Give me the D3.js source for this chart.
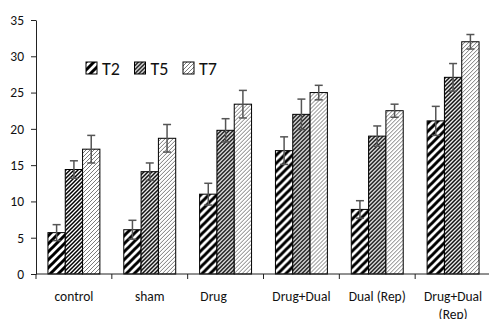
<!DOCTYPE html>
<html>
<head>
<meta charset="utf-8">
<script src="https://cdn.jsdelivr.net/npm/d3@7"></script>
<style>
  body { margin: 0; background: #fff; }
  text { font-family: Carlito, Lato, sans-serif; }
</style>
</head>
<body>
<div id="chartbox"></div>
<script>
const categories = ['control', 'sham', 'Drug', 'Drug+Dual', 'Dual (Rep)', 'Drug+Dual (Rep)']
const series = ['T2', 'T5', 'T7']
const t2 = [5.7, 6.1, 11.0, 17.0, 8.9, 21.1]
const t5 = [14.4, 14.1, 19.8, 22.0, 19.0, 27.1]
const t7 = [17.2, 18.7, 23.4, 25.0, 22.5, 32.0]
const t2err = [1.1, 1.3, 1.5, 1.9, 1.2, 2.0]
const t5err = [1.2, 1.2, 1.6, 2.1, 1.4, 1.9]
const t7err = [1.9, 1.9, 1.9, 1.0, 0.9, 1.0]
const yTicks = [0, 5, 10, 15, 20, 25, 30, 35]

const WIDTH = 489
const HEIGHT = 319
const chart = {
  left: 36,
  right: 491,
  top: 20,
  bottom: 274,
}

const values = { T2: t2, T5: t5, T7: t7 }
const errors = { T2: t2err, T5: t5err, T7: t7err }

const svg = d3.select('#chartbox')
  .append('svg')
  .attr('width', WIDTH)
  .attr('height', HEIGHT)

// hatch fills, all "upward diagonal"
const defs = svg.append('defs')
const hatch = (id, size, width, color) => {
  const p = defs.append('pattern')
    .attr('id', id)
    .attr('patternUnits', 'userSpaceOnUse')
    .attr('width', size)
    .attr('height', size)
  p.append('rect').attr('width', size).attr('height', size).attr('fill', '#fff')
  p.append('path')
    .attr('d', `M${-size / 2},${size / 2} l${size},${-size} M0,${size} l${size},${-size} M${size / 2},${size * 1.5} l${size},${-size}`)
    .attr('stroke', color)
    .attr('stroke-width', width)
}
hatch('p-T2', 8, 3, '#000')
hatch('p-T5', 4, 1.5, '#000')
hatch('p-T7', 4, 1, '#7a7a7a')

const x0 = d3.scaleBand()
  .domain(categories)
  .range([chart.left, chart.right])
  .padding(0)

const x1 = d3.scaleBand()
  .domain(series)
  .range([0, x0.bandwidth()])
  .paddingInner(0)
  .paddingOuter(0.69)

const y = d3.scaleLinear()
  .domain([0, 35])
  .range([chart.bottom, chart.top])

const rows = categories.map((c, i) => ({
  cat: c,
  bars: series.map(s => ({ s, v: values[s][i], e: errors[s][i] }))
}))

const groups = svg.selectAll('g.group')
  .data(rows)
  .enter()
  .append('g')
  .attr('class', 'group')
  .attr('transform', d => `translate(${x0(d.cat)},0)`)

groups.selectAll('rect')
  .data(d => d.bars)
  .enter()
  .append('rect')
  .attr('x', d => x1(d.s))
  .attr('y', d => y(d.v))
  .attr('width', x1.bandwidth())
  .attr('height', d => y(0) - y(d.v))
  .attr('fill', d => `url(#p-${d.s})`)
  .attr('stroke', '#000')
  .attr('stroke-width', 1)

// error bars
const err = groups.selectAll('g.err')
  .data(d => d.bars)
  .enter()
  .append('g')
  .attr('class', 'err')
  .attr('stroke', '#555')
  .attr('stroke-width', 1.5)
const cx = d => x1(d.s) + x1.bandwidth() / 2
err.append('line')
  .attr('x1', cx).attr('x2', cx)
  .attr('y1', d => y(d.v - d.e))
  .attr('y2', d => y(d.v + d.e))
err.append('line')
  .attr('x1', d => cx(d) - 4).attr('x2', d => cx(d) + 4)
  .attr('y1', d => y(d.v + d.e)).attr('y2', d => y(d.v + d.e))
err.append('line')
  .attr('x1', d => cx(d) - 4).attr('x2', d => cx(d) + 4)
  .attr('y1', d => y(d.v - d.e)).attr('y2', d => y(d.v - d.e))

// y axis
const yAxis = d3.axisLeft(y)
  .tickValues(yTicks)
  .tickSize(5)
  .tickSizeOuter(0)
  .tickPadding(7)
svg.append('g')
  .attr('transform', `translate(${chart.left},0)`)
  .call(yAxis)
  .call(g => g.select('.domain').attr('stroke', '#222'))
  .call(g => g.selectAll('.tick line').attr('stroke', '#222'))
  .call(g => g.selectAll('.tick text')
    .attr('font-family', 'Carlito, Lato, sans-serif')
    .attr('font-size', 13.5)
    .attr('fill', '#111'))

// x axis: line, ticks at band edges, labels at band centers
const xAxis = svg.append('g')
xAxis.append('line')
  .attr('x1', chart.left).attr('x2', WIDTH)
  .attr('y1', y(0)).attr('y2', y(0))
  .attr('stroke', '#222')
xAxis.selectAll('line.tick')
  .data(categories)
  .enter()
  .append('line')
  .attr('class', 'tick')
  .attr('x1', d => x0(d)).attr('x2', d => x0(d))
  .attr('y1', y(0)).attr('y2', y(0) + 5)
  .attr('stroke', '#222')

const labelShift = { 'Drug': -12 }
const labels = xAxis.selectAll('text')
  .data(categories)
  .enter()
  .append('text')
  .attr('text-anchor', 'middle')
  .attr('font-size', 13.5)
  .attr('fill', '#111')
  .attr('transform', d => `translate(${x0(d) + x0.bandwidth() / 2 + (labelShift[d] || 0)},301)`)
labels.each(function (d) {
  const t = d3.select(this)
  const parts = d === 'Drug+Dual (Rep)' ? ['Drug+Dual', '(Rep)'] : [d]
  parts.forEach((p, i) => {
    t.append('tspan').attr('x', 0).attr('y', i * 17.5).text(p)
  })
})

// legend
const legend = svg.append('g')
  .attr('transform', 'translate(86,62)')
const item = legend.selectAll('g')
  .data(series)
  .enter()
  .append('g')
  .attr('transform', (d, i) => `translate(${i * 48.5},0)`)
item.append('rect')
  .attr('width', 11)
  .attr('height', 12)
  .attr('fill', d => `url(#p-${d})`)
  .attr('stroke', '#000')
item.append('text')
  .attr('x', 16)
  .attr('y', 12.5)
  .attr('font-size', 18)
  .attr('fill', '#111')
  .text(d => d)
</script>
</body>
</html>
